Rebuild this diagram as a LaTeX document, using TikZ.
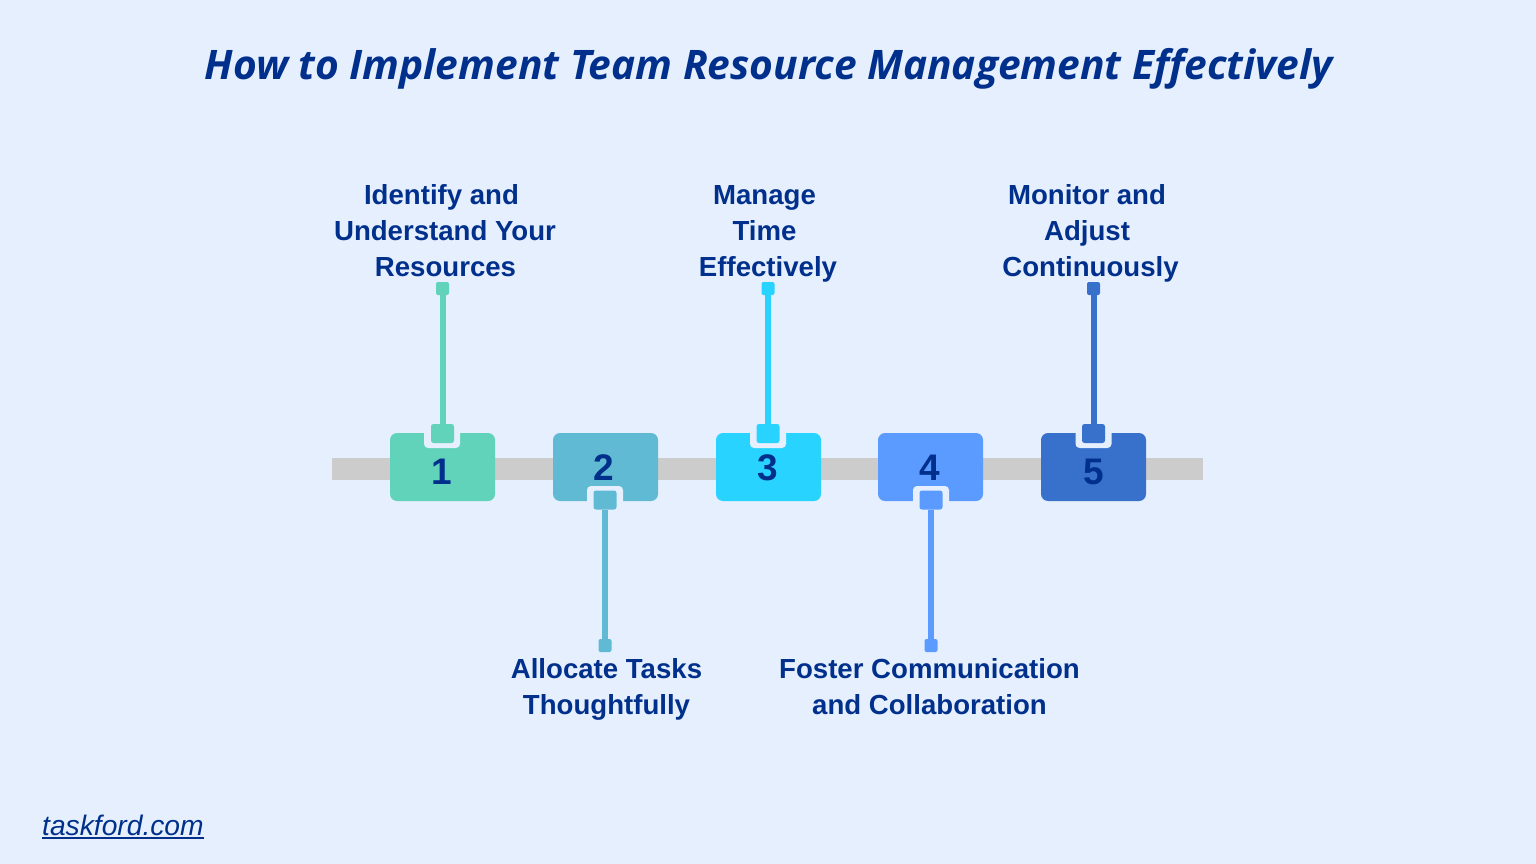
\documentclass[tikz,border=0pt]{standalone}
\usepackage{fontspec}
\setmainfont{Liberation Sans}
\newfontfamily\titlefont[Ligatures=NoCommon]{Open Sans}
\newfontfamily\labelfont{Liberation Sans}
\definecolor{bgc}{HTML}{E6EFFD}
\definecolor{ink}{HTML}{00308C}
\definecolor{barc}{HTML}{CCCCCC}
\definecolor{cA}{HTML}{60D3BA}
\definecolor{cB}{HTML}{60BAD3}
\definecolor{cC}{HTML}{29D3FF}
\definecolor{cD}{HTML}{5B9BFF}
\definecolor{cE}{HTML}{3771CC}
\tikzset{
 card/.style={fill=#1,rounded corners=7pt,minimum width=105pt,minimum height=68pt,inner sep=0pt,draw=none},
 notch/.style={fill=bgc,rounded corners=4pt,minimum width=36pt,minimum height=34pt,inner sep=0pt},
 tab/.style={fill=#1,rounded corners=2.5pt,minimum width=23pt,minimum height=19pt,inner sep=0pt},
 tip/.style={fill=#1,rounded corners=2pt,minimum width=13pt,minimum height=13pt,inner sep=0pt},
 stem/.style={draw=#1,line width=6pt},
 lab/.style={text=ink,font=\labelfont\fontsize{27.6}{32}\selectfont\bfseries,inner sep=0pt,anchor=base},
 num/.style={text=ink,font=\fontsize{37}{40}\selectfont\bfseries,inner sep=0pt,anchor=base},
}
\begin{document}
\begin{tikzpicture}[x=1pt,y=-1pt]
\useasboundingbox (0,0) rectangle (1536,864);
\fill[bgc] (0,0) rectangle (1536,864);
\node[text=ink,font=\titlefont\fontsize{40.7}{48}\selectfont\bfseries\itshape,inner sep=0pt,anchor=base] (title) at (768.5,80) {How to Implement Team Resource Management Effectively};
\fill[barc] (332,458) rectangle (1203,480);
% cards
\node[card=cA] (c1) at (442.5,467) {};
\node[card=cB] (c2) at (605.5,467) {};
\node[card=cC] (c3) at (768.5,467) {};
\node[card=cD] (c4) at (930.5,467) {};
\node[card=cE] (c5) at (1093.5,467) {};
% notches
\node[notch] (n1) at (442,431) {};
\node[notch] (n2) at (605,503) {};
\node[notch] (n3) at (768,431) {};
\node[notch] (n4) at (931,503) {};
\node[notch] (n5) at (1093.5,431) {};
% tabs
\node[tab=cA] (t1) at (442.5,433.5) {};
\node[tab=cB] (t2) at (605,500) {};
\node[tab=cC] (t3) at (768,433.5) {};
\node[tab=cD] (t4) at (931,500) {};
\node[tab=cE] (t5) at (1093.5,433.5) {};
% tips
\node[tip=cA] (p1) at (442.5,288.5) {};
\node[tip=cB] (p2) at (605,645.5) {};
\node[tip=cC] (p3) at (768,288.5) {};
\node[tip=cD] (p4) at (931,645.5) {};
\node[tip=cE] (p5) at (1093.5,288.5) {};
% stems
\draw[stem=cA] (p1) -- (t1);
\draw[stem=cB] (t2) -- (p2);
\draw[stem=cC] (p3) -- (t3);
\draw[stem=cD] (t4) -- (p4);
\draw[stem=cE] (p5) -- (t5);
% numbers
\node[num] (d1) at (442,484) {1};
\node[num] (d2) at (603.5,480) {2};
\node[num] (d3) at (768,480) {3};
\node[num] (d4) at (929.5,480) {4};
\node[num] (d5) at (1093.5,484) {5};
% labels
\node[lab] (l1a) at (441.5,204) {Identify and};
\node[lab] (l1b) at (445,240) {Understand Your};
\node[lab] (l1c) at (445.5,276) {Resources};
\node[lab] (l2a) at (606.5,678) {Allocate Tasks};
\node[lab] (l2b) at (606.5,714) {Thoughtfully};
\node[lab] (l3a) at (764.5,204) {Manage};
\node[lab] (l3b) at (764.5,240) {Time};
\node[lab] (l3c) at (768,276) {Effectively};
\node[lab] (l4a) at (929.5,678) {Foster Communication};
\node[lab] (l4b) at (929.5,714) {and Collaboration};
\node[lab] (l5a) at (1087,204) {Monitor and};
\node[lab] (l5b) at (1087,240) {Adjust};
\node[lab] (l5c) at (1090.5,276) {Continuously};
% footer
\node[text=ink,font=\fontsize{28.2}{32}\selectfont\itshape,inner sep=0pt,anchor=base west] (url) at (42,835) {taskford.com};
\draw[ink,line width=1.2pt] (42,838) -- (204,838);
\end{tikzpicture}
\end{document}
